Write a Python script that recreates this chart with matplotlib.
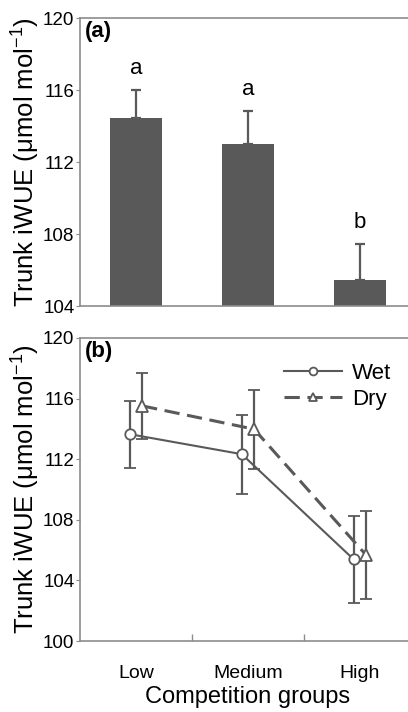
import matplotlib
matplotlib.use("Agg")
import matplotlib.pyplot as plt
import numpy as np

plt.rcParams['font.family'] = ['Liberation Sans', 'DejaVu Sans']
plt.rcParams['mathtext.fontset'] = 'custom'
plt.rcParams['mathtext.rm'] = 'Liberation Sans'
plt.rcParams['mathtext.it'] = 'Liberation Sans:italic'
plt.rcParams['mathtext.bf'] = 'Liberation Sans:bold'

# --- data ---
groups = ['Low', 'Medium', 'High']
bar_mean = [114.45, 113.0, 105.45]
bar_err = [1.55, 1.85, 2.03]
bar_letters = ['a', 'a', 'b']

wet_mean = [113.65, 112.33, 105.38]
wet_err = [2.2, 2.6, 2.87]
dry_mean = [115.52, 113.98, 105.67]
dry_err = [2.2, 2.6, 2.9]

dark = '#595959'
spine_c = '#8c8c8c'
ylab = 'Trunk iWUE (\u03bcmol mol$^{-1}$)'

fig = plt.figure(figsize=(4.08, 7.12), dpi=100)
ax1 = fig.add_axes([0.196, 0.570, 0.8235, 0.4045])
ax2 = fig.add_axes([0.196, 0.0997, 0.8235, 0.4256])

x = np.arange(len(groups)) + 0.5

# --- (a) bars ---
ax1.bar(x, bar_mean, width=0.47, color=dark, bottom=0, zorder=2)
ax1.errorbar(x, bar_mean, yerr=[np.zeros(3), bar_err], fmt='none',
             ecolor=dark, elinewidth=1.6, capsize=3.6, capthick=1.6, zorder=1)
for xi, m, e, lt in zip(x, bar_mean, bar_err, bar_letters):
    ax1.text(xi, m + e + 0.6, lt, ha='center', va='bottom', fontsize=16)
ax1.set_ylim(104, 120)
ax1.set_yticks([104, 108, 112, 116, 120])
ax1.set_xlim(0, 3)
ax1.set_xticks([])
ax1.text(0.015, 0.99, '(a)', transform=ax1.transAxes, ha='left', va='top',
         fontsize=16, fontweight='bold')

# --- (b) lines ---
off = 0.055
ax2.errorbar(x - off, wet_mean, yerr=wet_err, color=dark, marker='o',
             mfc='white', mec=dark, ms=7.5, mew=1.3, lw=1.5, ls='-',
             elinewidth=1.6, capsize=4.6, capthick=1.6, label='Wet')
ax2.errorbar(x + off, dry_mean, yerr=dry_err, color=dark, marker='^',
             mfc='white', mec=dark, ms=8.5, mew=1.3, lw=2.2, ls=(0, (5, 2.5)),
             elinewidth=1.6, capsize=4.6, capthick=1.6, label='Dry')
ax2.set_ylim(100, 120)
ax2.set_yticks([100, 104, 108, 112, 116, 120])
ax2.set_xlim(0, 3)
ax2.set_xticks(x, groups)
ax2.tick_params(axis='x', length=0, labelsize=14, pad=17)
ax2.set_xticks([1, 2], minor=True)
ax2.tick_params(axis='x', which='minor', direction='in', length=5,
                color=spine_c, width=1)
ax2.set_xlabel('Competition groups', fontsize=17, labelpad=3)
ax2.text(0.015, 0.99, '(b)', transform=ax2.transAxes, ha='left', va='top',
         fontsize=16, fontweight='bold')
h, l = ax2.get_legend_handles_labels()
h = [hh[0] for hh in h]
ax2.legend(h, l, loc='upper right', bbox_to_anchor=(0.985, 0.985), frameon=False,
           fontsize=16, handlelength=2.6, handletextpad=0.45, labelspacing=0.25,
           markerscale=0.75)

for ax in (ax1, ax2):
    for s in ax.spines.values():
        s.set_color(spine_c)
        s.set_linewidth(1.2)
    ax.tick_params(axis='y', direction='out', length=3, color=spine_c,
                   labelsize=13.5, pad=1)
    ax.set_ylabel(ylab, fontsize=18.5, labelpad=1)

fig.savefig('out.png', dpi=100)
